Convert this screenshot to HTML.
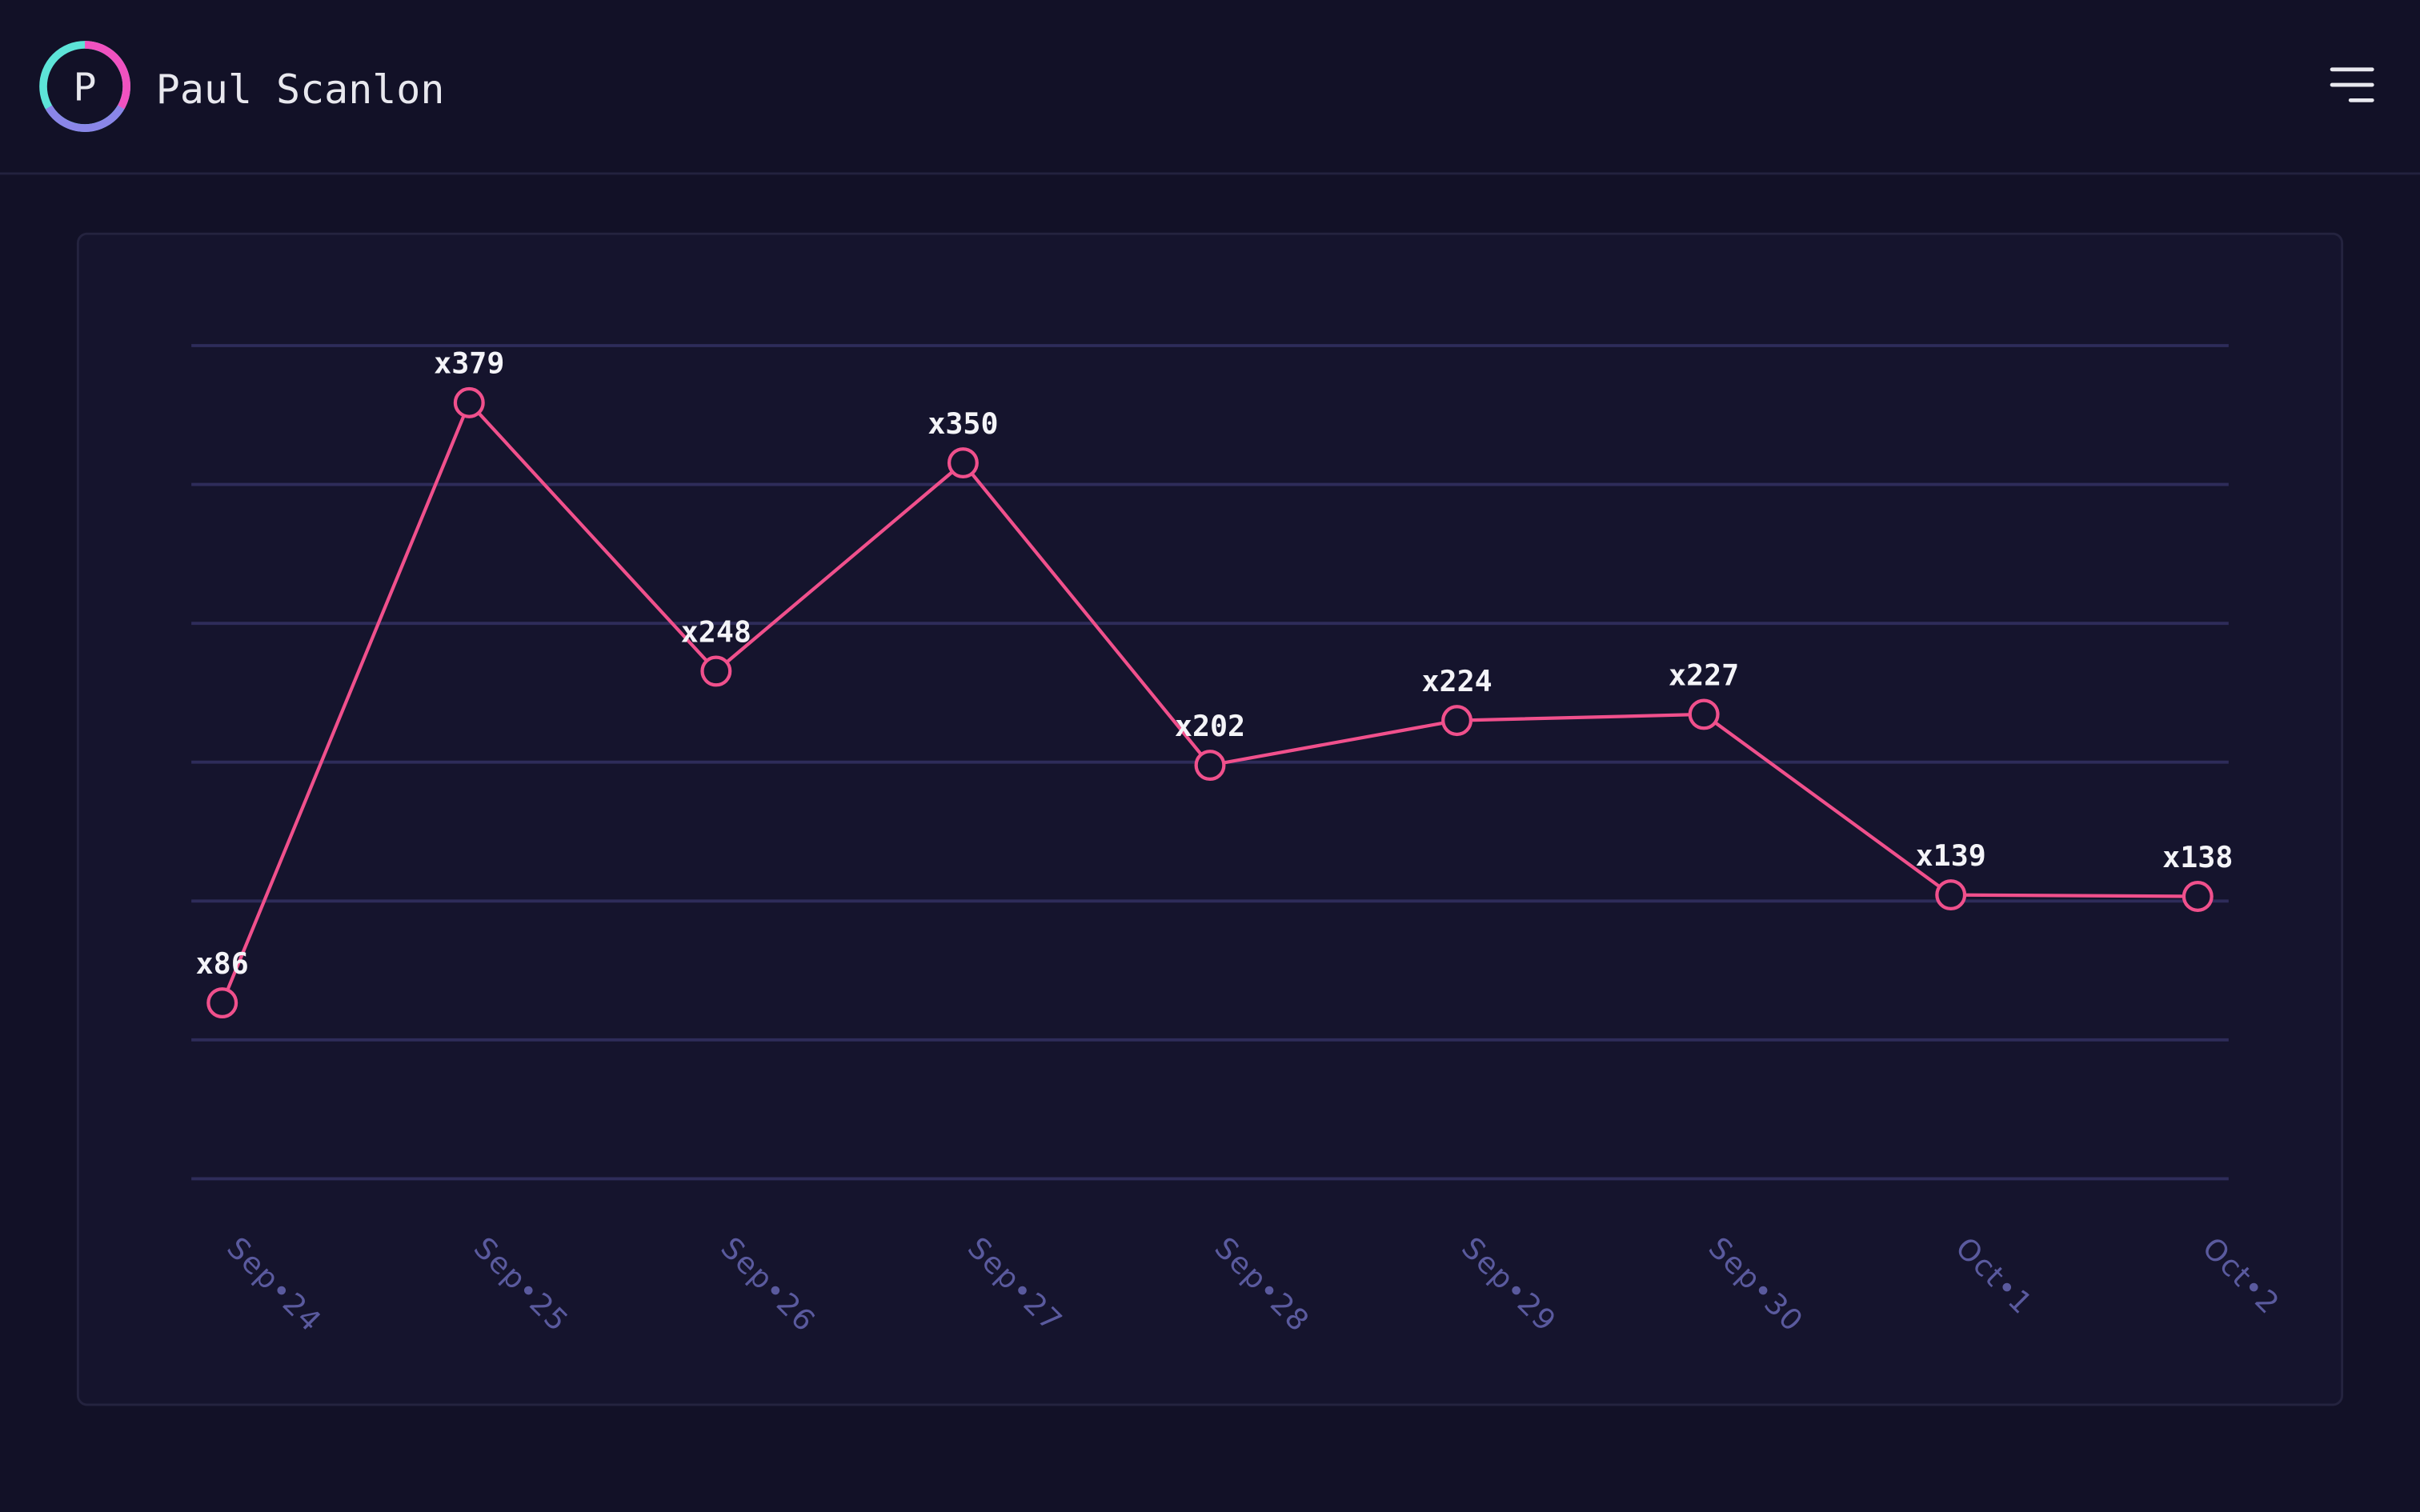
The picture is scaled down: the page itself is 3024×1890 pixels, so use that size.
<!DOCTYPE html>
<html><head><meta charset="utf-8"><style>
html,body{margin:0;padding:0;background:#121127;}
svg{display:block;}
</style></head><body>
<svg width="3024" height="1890" viewBox="0 0 1568 980" xmlns="http://www.w3.org/2000/svg">
<rect width="1568" height="980" fill="#121127"/>
<circle cx="55" cy="56" r="27" fill="none" stroke="#5de4d8" stroke-width="5"/>
<path d="M55 29 A27 27 0 0 1 78.4 69.5" fill="none" stroke="#f052c0" stroke-width="5"/>
<path d="M78.4 69.5 A27 27 0 0 1 31.6 69.5" fill="none" stroke="#8a86e8" stroke-width="5"/>
<text x="55" y="65" text-anchor="middle" font-family="DejaVu Sans Mono, monospace" font-size="25" fill="#e8e8ee">P</text>
<text x="101" y="67" font-family="DejaVu Sans Mono, Liberation Mono, monospace" font-size="26" fill="#e8e8ee" textLength="187" lengthAdjust="spacingAndGlyphs">Paul Scanlon</text>
<g stroke="#e8e8ee" stroke-width="2.5" stroke-linecap="round">
<line x1="1511" y1="45" x2="1537" y2="45"/>
<line x1="1511" y1="55" x2="1537" y2="55"/>
<line x1="1523" y1="65" x2="1537" y2="65"/>
</g>
<line x1="0" y1="112.5" x2="1568" y2="112.5" stroke="#23223f" stroke-width="1.5"/>
<rect x="50.5" y="151.5" width="1467" height="759" rx="6" fill="#15142d" stroke="#24233f" stroke-width="1.5"/>
<g stroke="#2e2c5a" stroke-width="2">
<line x1="124" y1="224" x2="1444" y2="224"/>
<line x1="124" y1="314" x2="1444" y2="314"/>
<line x1="124" y1="404" x2="1444" y2="404"/>
<line x1="124" y1="494" x2="1444" y2="494"/>
<line x1="124" y1="584" x2="1444" y2="584"/>
<line x1="124" y1="674" x2="1444" y2="674"/>
<line x1="124" y1="764" x2="1444" y2="764"/>
</g>
<polyline fill="none" stroke="#f0508c" stroke-width="2.2" points="144,650 304,261 464,435 624,300 784,496 944,467 1104,463 1264,580 1424,581"/>
<g fill="#15142d" stroke="#f0508c" stroke-width="2.2">
<circle cx="144" cy="650" r="9"/><circle cx="304" cy="261" r="9"/><circle cx="464" cy="435" r="9"/>
<circle cx="624" cy="300" r="9"/><circle cx="784" cy="496" r="9"/><circle cx="944" cy="467" r="9"/>
<circle cx="1104" cy="463" r="9"/><circle cx="1264" cy="580" r="9"/><circle cx="1424" cy="581" r="9"/>
</g>
<g font-family="DejaVu Sans Mono, monospace" font-weight="bold" font-size="19" fill="#f4f4f8" text-anchor="middle">
<text x="144" y="631">x86</text><text x="304" y="242">x379</text><text x="464" y="416">x248</text>
<text x="624" y="281">x350</text><text x="784" y="477">x202</text><text x="944" y="448">x224</text>
<text x="1104" y="444">x227</text><text x="1264" y="561">x139</text><text x="1424" y="562">x138</text>
</g>
<g font-family="DejaVu Sans, sans-serif" font-size="19" fill="#5a5a9e" letter-spacing="1">
<text transform="translate(146,810) rotate(45)">Sep•24</text>
<text transform="translate(306,810) rotate(45)">Sep•25</text>
<text transform="translate(466,810) rotate(45)">Sep•26</text>
<text transform="translate(626,810) rotate(45)">Sep•27</text>
<text transform="translate(786,810) rotate(45)">Sep•28</text>
<text transform="translate(946,810) rotate(45)">Sep•29</text>
<text transform="translate(1106,810) rotate(45)">Sep•30</text>
<text transform="translate(1266,810) rotate(45)">Oct•1</text>
<text transform="translate(1426,810) rotate(45)">Oct•2</text>
</g>
</svg>
</body></html>
